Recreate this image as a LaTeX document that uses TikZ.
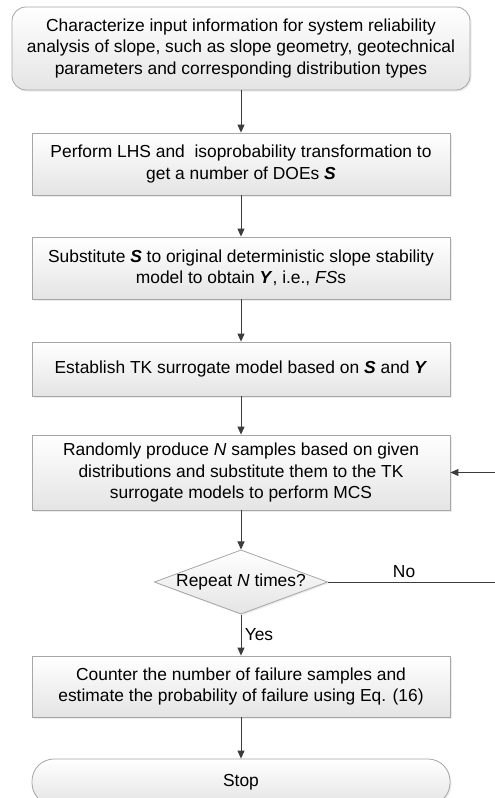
\documentclass[tikz,border=0pt]{standalone}
\usepackage{fontspec}
\setmainfont{Liberation Sans}
\usepackage{tikz}
\usetikzlibrary{shapes.geometric, arrows.meta, positioning, calc, shadows}
\usepackage{xcolor}
\definecolor{boxline}{HTML}{A6A6A6}
\definecolor{boxfill}{HTML}{E4E4E4}
\definecolor{arrowgray}{HTML}{3C3C3C}
\newcommand{\bivar}[1]{\textbf{\textit{#1}}}

\tikzset{
  procbox/.style={draw=boxline, line width=0.8pt, top color=white, bottom color=boxfill,
    minimum width=418pt, align=center, inner sep=3pt, font=\fontsize{17.4}{21.5}\selectfont,
    drop shadow={opacity=0.15, shadow xshift=1.5pt, shadow yshift=-1.5pt}},
  termbox/.style={procbox, rounded corners=14pt},
  decbox/.style={diamond, aspect=2.7, draw=boxline, line width=0.8pt, top color=white, bottom color=boxfill,
    minimum width=166pt, minimum height=62pt, inner sep=0pt, font=\fontsize{17.4}{21}\selectfont,
    drop shadow={opacity=0.15, shadow xshift=1.5pt, shadow yshift=-1.5pt}},
  flowarrow/.style={draw=arrowgray, line width=0.9pt, -{Triangle[length=8pt, width=7pt]}},
  flowlabel/.style={font=\fontsize{17.4}{18}\selectfont}
}

\begin{document}
\begin{tikzpicture}[x=1pt, y=1pt]
  \useasboundingbox (0,0) rectangle (495,-798);

  % flow chart blocks
  \node[termbox, minimum width=458pt, minimum height=83pt] (input) at (241,-48.5) {
    Characterize input information for system reliability\\
    analysis of slope, such as slope geometry, geotechnical\\
    parameters and corresponding distribution types};
  \node[procbox, minimum height=62pt] (lhs) at (241,-164) {
    Perform LHS and\ \ isoprobability transformation to\\
    get a number of DOEs \bivar{S}};
  \node[procbox, minimum height=62pt] (subst) at (241,-268) {
    Substitute \bivar{S} to original deterministic slope stability\\
    model to obtain \bivar{Y}, i.e., \textit{FS}s};
  \node[procbox, minimum height=54pt] (tk) at (241,-369) {
    Establish TK surrogate model based on \bivar{S} and \bivar{Y}};
  \node[procbox, minimum height=75pt] (mcs) at (241,-472.5) {
    Randomly produce \textit{N} samples based on given\\
    distributions and substitute them to the TK\\
    surrogate models to perform MCS};
  \node[decbox] (repeat) at (241,-582) {Repeat \textit{N} times?};
  \node[procbox, minimum height=61pt] (count) at (241,-686.5) {
    Counter the number of failure samples and\\
    estimate the probability of failure using Eq. (16)};
  \node[termbox, rounded corners=22pt, minimum height=46pt] (stop) at (241,-782) {Stop};

  % connectors
  \draw[flowarrow] (input) -- (lhs);
  \draw[flowarrow] (lhs) -- (subst);
  \draw[flowarrow] (subst) -- (tk);
  \draw[flowarrow] (tk) -- (mcs);
  \draw[flowarrow] (mcs) -- (repeat);
  \draw[flowarrow] (repeat) -- node[flowlabel, right=0pt] {Yes} (count);
  \draw[flowarrow] (count) -- (stop);

  % loop back
  \coordinate (loopdown) at (497,-582);
  \coordinate (loopup) at (497,-472.5);
  \draw[flowarrow] (repeat.east) -- node[flowlabel, above=1pt, pos=0.45] {No} (loopdown)
    -- (loopup) -- (mcs.east);
\end{tikzpicture}
\end{document}
